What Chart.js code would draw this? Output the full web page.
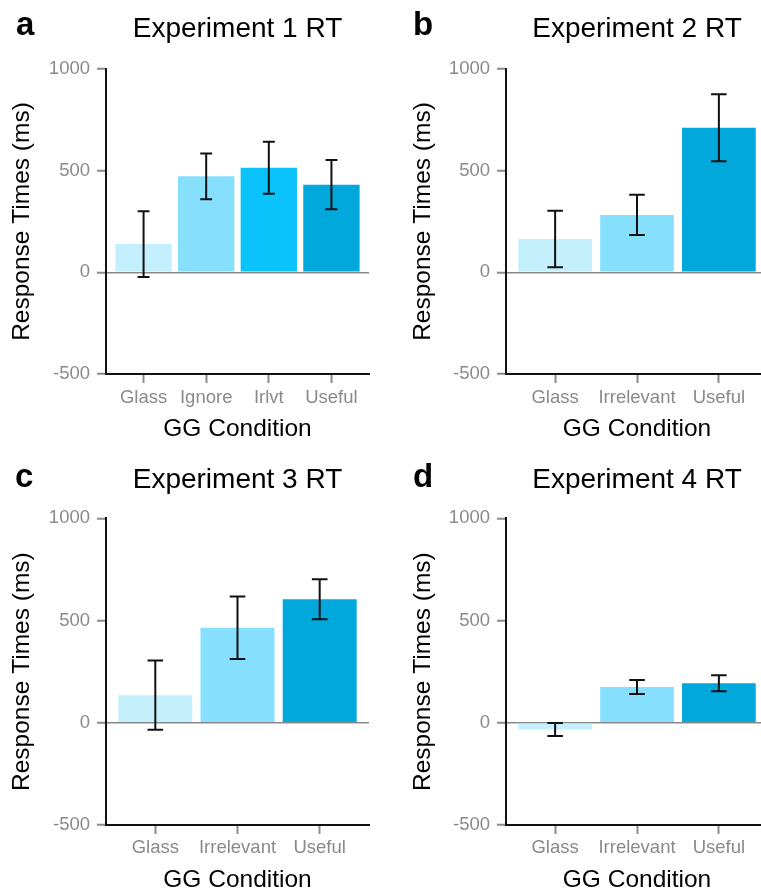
<!DOCTYPE html>
<html>
<head>
<meta charset="utf-8">
<script src="https://cdn.jsdelivr.net/npm/chart.js@4.4.1/dist/chart.umd.min.js"></script>
<style>
html, body { margin: 0; padding: 0; width: 761px; height: 892px; overflow: hidden; background: #fff; }
canvas { position: absolute; }
.tag { position: absolute; font: bold 33px 'Liberation Sans', Arial, sans-serif; line-height: 33px; color: #000; }
</style>
</head>
<body>
<canvas id="c1" width="380" height="446" style="left:0;top:0"></canvas>
<canvas id="c2" width="395" height="446" style="left:380px;top:0"></canvas>
<canvas id="c3" width="380" height="452" style="left:0;top:446px"></canvas>
<canvas id="c4" width="395" height="452" style="left:380px;top:446px"></canvas>
<div class="tag" style="left:16px;top:7px">a</div>
<div class="tag" style="left:413px;top:7px">b</div>
<div class="tag" style="left:15px;top:459px">c</div>
<div class="tag" style="left:413px;top:459px">d</div>
<script>
// conditions
const cats1 = ['Glass', 'Ignore', 'Irlvt', 'Useful'];
const cats = ['Glass', 'Irrelevant', 'Useful'];

// mean response times and error bar half widths (ms)
const rt1 = [139, 472, 514, 431];
const err1 = [162, 113, 128, 121];
const rt2 = [164, 282, 711];
const err2 = [139, 99, 165];
const rt3 = [135, 465, 604];
const err3 = [169, 153, 98];
const rt4 = [-33, 175, 193];
const err4 = [32, 34, 39];

const yTicks = [-500, 0, 500, 1000];

const cols1 = ['#C4EFFD', '#87DFFE', '#0BC3FB', '#00A8DC'];
const cols = ['#C4EFFD', '#87DFFE', '#00A8DC'];

const gray = '#8a8a8a';
Chart.defaults.font.family = "'Liberation Sans', Arial, sans-serif";

function errorBars(errs) {
    return {
        id: 'errorBars',
        afterDatasetsDraw(chart) {
            const x = chart.scales.x, y = chart.scales.y;
            const ctx = chart.ctx;
            const cap = 0.19 * (x.getPixelForValue(2) - x.getPixelForValue(1)) / 2;
            const pts = chart.data.datasets[0].data;
            ctx.save();
            ctx.strokeStyle = '#111';
            ctx.lineWidth = 2;
            pts.forEach((p, i) => {
                const px = x.getPixelForValue(p.x);
                const hi = y.getPixelForValue(p.y + errs[i]);
                const lo = y.getPixelForValue(p.y - errs[i]);
                ctx.beginPath();
                ctx.moveTo(px, hi); ctx.lineTo(px, lo);
                ctx.moveTo(px - cap, hi); ctx.lineTo(px + cap, hi);
                ctx.moveTo(px - cap, lo); ctx.lineTo(px + cap, lo);
                ctx.stroke();
            });
            ctx.restore();
        }
    };
}

function panel(id, labels, means, errs, colors, title, b) {
    const n = labels.length;
    return new Chart(document.getElementById(id), {
        type: 'bar',
        data: {
            datasets: [{
                data: labels.map((l, i) => ({ x: i + 1, y: means[i] })),
                backgroundColor: colors,
                borderWidth: 0,
                barPercentage: 0.9,
                categoryPercentage: 1
            }]
        },
        options: {
            responsive: false,
            animation: false,
            layout: { padding: { left: 0, right: b.w - b.right, top: 0, bottom: 0 } },
            plugins: {
                legend: { display: false },
                tooltip: { enabled: false },
                title: {
                    display: true,
                    fullSize: false,
                    text: title,
                    color: '#000',
                    font: { size: 28, weight: 'normal' },
                    padding: { top: b.titleTop, bottom: b.top - b.titleTop - 33.6 }
                }
            },
            scales: {
                x: {
                    type: 'linear',
                    offset: false,
                    min: 0.4,
                    max: n + 0.6,
                    afterBuildTicks: s => { s.ticks = labels.map((l, i) => ({ value: i + 1 })); },
                    afterFit: s => { s.height = b.h - b.bottom; },
                    ticks: {
                        color: gray,
                        font: { size: 18.5 },
                        padding: b.xPad,
                        maxRotation: 0,
                        autoSkip: false,
                        callback: v => labels[v - 1]
                    },
                    grid: { offset: false, drawOnChartArea: false, tickLength: 9, tickColor: gray, tickWidth: 2 },
                    border: { display: true, color: '#111', width: 2 },
                    title: {
                        display: true,
                        text: 'GG Condition',
                        color: '#000',
                        font: { size: 24.5 },
                        padding: { top: 0, bottom: b.xTitleBottom }
                    }
                },
                y: {
                    min: -500,
                    max: 1000,
                    afterBuildTicks: s => { s.ticks = yTicks.map(v => ({ value: v })); },
                    afterFit: s => { s.width = b.left; },
                    ticks: { color: gray, font: { size: 18.5 }, padding: 7, callback: v => String(v) },
                    grid: {
                        color: c => (c.tick && c.tick.value === 0 ? '#888' : 'rgba(0,0,0,0)'),
                        lineWidth: 1.5,
                        tickLength: 9,
                        tickColor: gray,
                        tickWidth: 2
                    },
                    border: { display: true, color: '#111', width: 2 },
                    title: {
                        display: true,
                        text: 'Response Times (ms)',
                        color: '#000',
                        font: { size: 24.5 },
                        padding: { top: b.yTitleTop, bottom: 0 }
                    }
                }
            }
        },
        plugins: [errorBars(errs)]
    });
}

const top1 = { w: 380, h: 446, left: 106, right: 369, top: 69, bottom: 374, titleTop: 12.7, yTitleTop: 7.3, xPad: 4, xTitleBottom: 2 };
const top2 = { w: 395, h: 446, left: 126, right: 388, top: 69, bottom: 374, titleTop: 12.7, yTitleTop: 28.3, xPad: 4, xTitleBottom: 2 };
const bot1 = { w: 380, h: 452, left: 106, right: 369, top: 72.3, bottom: 379, titleTop: 17.4, yTitleTop: 7.3, xPad: 3, xTitleBottom: 3.5 };
const bot2 = { w: 395, h: 452, left: 126, right: 388, top: 72.3, bottom: 379, titleTop: 17.4, yTitleTop: 28.3, xPad: 3, xTitleBottom: 3.5 };

panel('c1', cats1, rt1, err1, cols1, 'Experiment 1 RT', top1);
panel('c2', cats, rt2, err2, cols, 'Experiment 2 RT', top2);
panel('c3', cats, rt3, err3, cols, 'Experiment 3 RT', bot1);
panel('c4', cats, rt4, err4, cols, 'Experiment 4 RT', bot2);
</script>
</body>
</html>
